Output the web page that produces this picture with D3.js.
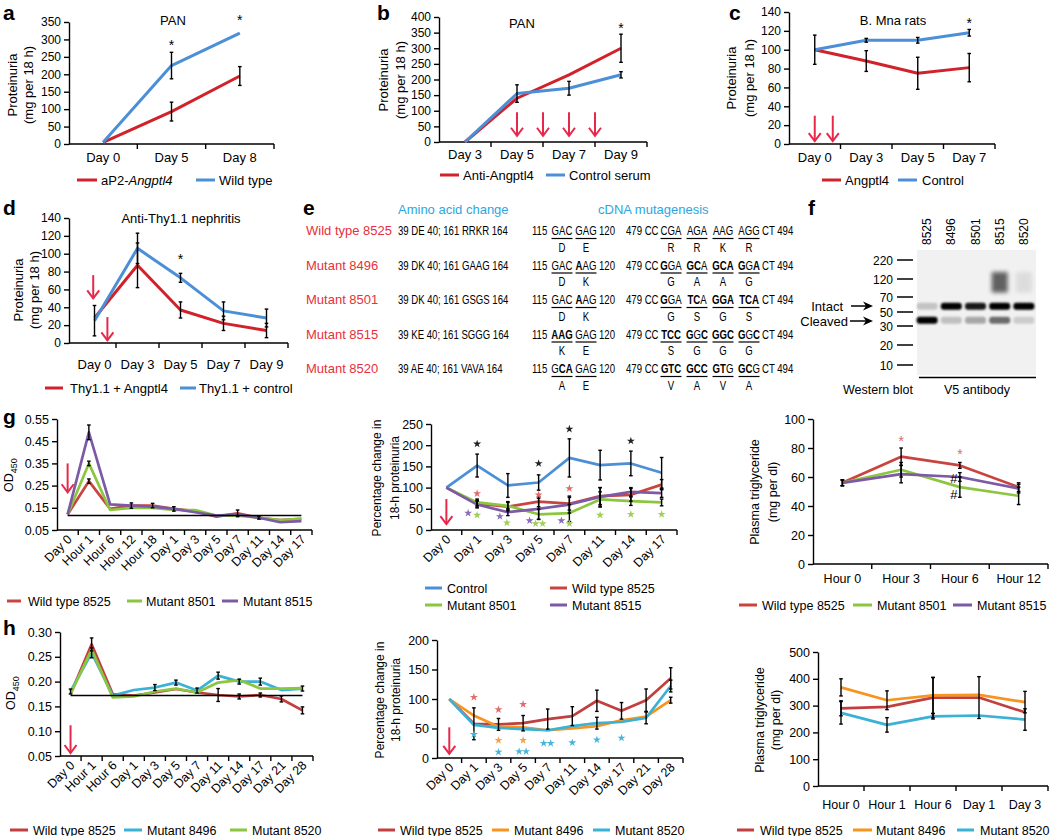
<!DOCTYPE html>
<html><head><meta charset="utf-8">
<script src="https://cdn.jsdelivr.net/npm/d3@7/dist/d3.min.js"></script>
<style>html,body{margin:0;padding:0;background:#fff}</style>
</head><body>
<svg id="fig" width="1050" height="836" xmlns="http://www.w3.org/2000/svg"></svg>
<script>
// ================= DATA =================
// panel a
const aCats = ["Day 0","Day 5","Day 8"];
const aTicks = [0,50,100,150,200,250,300,350];
const aAngptl4 = [5,93,195];
const aAngptl4Err = [0,27,27];
const aWild = [5,225,318];
const aWildErr = [0,38,0];
const aStars = [[1,290],[2,362]];
// panel b
const bCats = ["Day 3","Day 5","Day 7","Day 9"];
const bTicks = [0,50,100,150,200,250,300,350,400];
const bAnti = [0,140,215,300];
const bAntiErr = [0,0,0,45];
const bControl = [0,155,172,215];
const bControlErr = [0,28,22,10];
const bStars = [[3,372]];
const bArrowPos = [1,1.5,2,2.5];
// panel c
const cCats = ["Day 0","Day 3","Day 5","Day 7"];
const cTicks = [0,20,40,60,80,100,120,140];
const cAngptl4 = [100,88,75,81];
const cAngptl4Err = [0,11,17,15];
const cControl = [100,110,110,118];
const cControlErr = [15.5,2,3,3.5];
const cStars = [[3,130]];
const cArrowPos = [0,0.35];
// panel d
const dCats = ["Day 0","Day 3","Day 5","Day 7","Day 9"];
const dTicks = [0,20,40,60,80,100,120,140];
const dAngptl4 = [28,87,37,22,14];
const dAngptl4Err = [0,25,9,8,8];
const dControl = [25,106,73,36,28];
const dControlErr = [17,17,5,10,10];
const dStars = [[2,96]];
// panel e
const eNames = ["Wild type 8525","Mutant 8496","Mutant 8501","Mutant 8515","Mutant 8520"];
const eAmino = ["39 DE 40; 161 RRKR  164","39 DK 40; 161 GAAG 164","39 DK 40; 161 GSGS 164","39 KE 40; 161 SGGG 164","39 AE 40; 161 VAVA 164"];
const eAA1 = ["DE","DK","DK","KE","AE"];
const eAA2 = ["RRKR","GAAG","GSGS","SGGG","VAVA"];
const eCodon1 = [["GAC","GAG"],["GAC","[A]AG"],["GAC","[A]AG"],["[AAG]","GAG"],["G[CA]","GAG"]];
const eCodon2 = [["CGA","AGA","AAG","AGG"],["[G]GA","[GC]A","[GCA]","[G]G[A]"],["[G]GA","[TC]A","[GGA]","[TCA]"],["[TCC]","[G]G[C]","[GGC]","[G]G[C]"],["[GTC]","[GCC]","[GT]G","[GC]G"]];
// panel f
const fLanes = ["8525","8496","8501","8515","8520"];
const fMarkers = [220,120,70,50,30,20,10];
const fIntact = [0.18,1,0.9,1,1];
const fCleaved = [1,0.2,0.3,0.55,0.15];
const fSmear = [0,0,0,0.85,0.12];
// panel g (left)
const gOdCats = ["Day 0","Hour 1","Hour 6","Hour 12","Hour 18","Day 1","Day 3","Day 5","Day 7","Day 11","Day 14","Day 17"];
const gOdTicks = [0.05,0.15,0.25,0.35,0.45,0.55];
const gNames = ["Wild type 8525","Mutant 8501","Mutant 8515"];
const gOdWild = [0.12,0.27,0.145,0.16,0.16,0.145,0.135,0.11,0.125,0.105,0.095,0.10];
const gOdWildErr = [0,0.01,0,0.012,0.01,0.01,0,0,0.015,0.006,0,0];
const gOd8501 = [0.12,0.35,0.14,0.15,0.15,0.14,0.14,0.115,0.115,0.105,0.095,0.10];
const gOd8501Err = [0,0.01,0,0,0,0,0,0,0,0,0,0];
const gOd8515 = [0.12,0.49,0.165,0.16,0.155,0.145,0.13,0.115,0.12,0.105,0.085,0.09];
const gOd8515Err = [0,0.033,0,0,0,0,0,0,0,0,0,0];
const gOdBaseline = 0.115;
// panel g (middle)
const gPcCats = ["Day 0","Day 1","Day 3","Day 5","Day 7","Day 11","Day 14","Day 17"];
const gPcTicks = [0,50,100,150,200,250];
const gPcNames = ["Control","Wild type 8525","Mutant 8501","Mutant 8515"];
const gPcControl = [100,152,105,112,170,153,157,135];
const gPcControlErr = [0,27,28,18,45,35,29,36];
const gPcWild = [100,62,55,67,62,80,83,107];
const gPcWildErr = [0,8,10,12,15,20,15,12];
const gPc8501 = [100,65,57,37,40,72,68,65];
const gPc8501Err = [0,8,10,12,20,18,10,8];
const gPc8515 = [100,60,42,50,60,78,90,87];
const gPc8515Err = [0,8,8,25,20,22,10,10];
const gPcStars = [[1,203,0,"k"],[3,157,0,"k"],[4,238,0,"k"],[6,210,0,"k"],
  [1,86,0,"r"],[3,83,0,"r"],[4,98,0,"r"],
  [1,40,-9,"p"],[2,32,-8,"p"],[3,22,-9,"p"],[4,22,-8,"p"],
  [1,35,0,"g"],[2,17,-1,"g"],[3,15,-3,"g"],[3,15,4,"g"],[4,15,0,"g"],[5,35,0,"g"],[6,37,0,"g"],[7,37,0,"g"]];
// panel g (right)
const gTgCats = ["Hour 0","Hour 3","Hour 6","Hour 12"];
const gTgTicks = [0,20,40,60,80,100];
const gTgWild = [56,74,68,53];
const gTgWildErr = [2,6,2,3];
const gTg8501 = [56,65,53,47];
const gTg8501Err = [2,5,7,6];
const gTg8515 = [56,62,60,52];
const gTg8515Err = [2,6,3,3];
const gTgStars = [[1,86],[2,77]];
const gTgHash = [[2,59],[2,48]];
// panel h (left)
const hOdCats = ["Day 0","Hour 1","Hour 6","Day 1","Day 3","Day 5","Day 7","Day 11","Day 14","Day 17","Day 21","Day 28"];
const hOdTicks = [0.05,0.10,0.15,0.20,0.25,0.30];
const hNames = ["Wild type 8525","Mutant 8496","Mutant 8520"];
const hOdWild = [0.175,0.275,0.175,0.172,0.178,0.185,0.178,0.173,0.17,0.173,0.165,0.142];
const hOdWildErr = [0,0.013,0,0,0,0,0,0.013,0.005,0.004,0.006,0.007];
const hOd8496 = [0.18,0.258,0.172,0.183,0.188,0.198,0.182,0.212,0.200,0.200,0.183,0.186];
const hOd8496Err = [0.005,0.01,0,0,0.006,0.005,0.005,0.007,0.005,0.007,0,0.005];
const hOd8520 = [0.175,0.265,0.168,0.17,0.18,0.186,0.178,0.198,0.203,0.186,0.186,0.187];
const hOdBaseline = 0.172;
// panel h (middle)
const hPcCats = ["Day 0","Day 1","Day 3","Day 5","Day 7","Day 11","Day 14","Day 17","Day 21","Day 28"];
const hPcTicks = [0,50,100,150,200];
const hPcWild = [100,58,57,59,66,71,97,80,98,135];
const hPcWildErr = [0,27,10,13,17,16,18,14,19,18];
const hPc8496 = [100,72,53,52,47,50,54,64,70,98];
const hPc8496Err = [0,0,0,0,0,0,0,0,0,5];
const hPc8520 = [100,56,51,49,47,54,59,61,68,122];
const hPc8520Err = [0,0,0,0,0,0,10,0,10,10];
const hPcStars = [[1,103,0,"r"],[2,82,0,"r"],[3,91,0,"r"],
  [2,30,0,"o"],[3,30,0,"o"],
  [1,40,0,"c"],[2,10,0,"c"],[3,11,-4,"c"],[3,11,3,"c"],[4,25,-4,"c"],[4,25,3,"c"],[5,26,0,"c"],[6,31,0,"c"],[7,34,0,"c"]];
// panel h (right)
const hTgCats = ["Hour 0","Hour 1","Hour 6","Day 1","Day 3"];
const hTgTicks = [0,100,200,300,400,500];
const hTgWild = [290,295,330,330,275];
const hTgWildErr = [28,0,75,78,0];
const hTg8496 = [368,320,338,340,313];
const hTg8496Err = [32,35,67,0,40];
const hTg8520 = [273,228,260,263,248];
const hTg8520Err = [42,27,10,0,40];

// ================= STYLE =================
const FONT = "'Liberation Sans', Arial, Helvetica, sans-serif";
const RED = "#d1222b", BLUE = "#4b8fd7";
const GRED = "#c9443f", GGREEN = "#8cc540", GPURPLE = "#7d5aa6";
const HRED = "#c13f3f", HORANGE = "#f7941f", HCYAN = "#3cb1d6";
const ARROW = "#e8284a";
const starCol = {k:"#222", r:"#e46a6a", p:"#8a6cb8", g:"#9fcf5a", o:"#f7a24a", c:"#45b6da"};

const svg = d3.select("#fig").attr("font-family", FONT);

function redArrow(x, y0, y1){
  svg.append("line").attr("x1",x).attr("x2",x).attr("y1",y0).attr("y2",y1).attr("stroke",ARROW).attr("stroke-width",2);
  svg.append("path").attr("d",`M${x-6},${y1-8}L${x},${y1}L${x+6},${y1-8}`).attr("fill","none").attr("stroke",ARROW).attr("stroke-width",2);
}
function letter(t,x,y){ svg.append("text").attr("x",x).attr("y",y).attr("font-size",21).attr("font-weight","bold").text(t); }
function yLab(lines, xs, cy, fs, sub){
  lines.forEach((l,i)=>{
    const t = svg.append("text").attr("transform",`translate(${xs[i]+fs*0.35},${cy}) rotate(-90)`).attr("text-anchor","middle").attr("font-size",fs);
    t.append("tspan").text(l);
    if(sub) t.append("tspan").attr("font-size",fs*0.72).attr("dy",4).text(sub);
  });
}
function legend(items, y, fs, lw){
  items.forEach(it=>{
    svg.append("line").attr("x1",it.x1).attr("x2",it.x2).attr("y1",y).attr("y2",y).attr("stroke",it.color).attr("stroke-width",lw);
    const t = svg.append("text").attr("x",it.tx).attr("y",y+fs*0.36).attr("font-size",fs);
    it.label.forEach(p=>t.append("tspan").attr("font-style",p[1]?"italic":"normal").text(p[0]));
  });
}
function title(t,x,y){ svg.append("text").attr("x",x).attr("y",y).attr("text-anchor","middle").attr("font-size",13).text(t); }

function linePanel(o){
  const x = d3.scaleBand().domain(o.cats).range([o.x0,o.x1]);
  const y = d3.scaleLinear().domain(o.yDomain).range([o.yb,o.yt]);
  const cx = i => x(o.cats[i]) + x.bandwidth()/2;
  const px = f => o.x0 + (f+0.5)*x.step();
  const g = svg.append("g");
  const ya = g.append("g").attr("transform",`translate(${o.ax},0)`)
    .call(d3.axisLeft(y).tickValues(o.yTicks).tickFormat(o.fmt||d3.format("d")).tickSize(5).tickSizeOuter(0).tickPadding(3));
  ya.selectAll("text").attr("font-size",o.yfs).attr("fill","#000").attr("font-family",FONT);
  ya.selectAll("path,line").attr("stroke","#000").attr("stroke-width",1.4);
  g.append("line").attr("x1",o.ax).attr("x2",o.x1).attr("y1",o.yb).attr("y2",o.yb).attr("stroke","#000").attr("stroke-width",1.4);
  const bounds = o.cats.slice(1).map(c=>x(c)).concat([o.x1]);
  g.selectAll(null).data(bounds).join("line").attr("x1",d=>d).attr("x2",d=>d).attr("y1",o.yb).attr("y2",o.yb+5).attr("stroke","#000").attr("stroke-width",1.4);
  const xa = g.append("g").attr("transform",`translate(0,${o.yb})`).call(d3.axisBottom(x).tickSize(0).tickPadding(0));
  xa.select(".domain").remove();
  const xt = xa.selectAll("text").attr("font-size",o.xfs).attr("fill","#000").attr("font-family",FONT).attr("dy",null);
  if(o.rot) xt.attr("text-anchor","end").attr("y",0).attr("transform",`translate(${o.rdx},${o.rdy}) rotate(-45)`);
  else xt.attr("y",o.xly);
  const line = d3.line().x((d,i)=>cx(i)).y(d=>y(d));
  o.series.forEach(s=>g.append("path").datum(s.vals).attr("d",line).attr("fill","none").attr("stroke",s.color).attr("stroke-width",o.lw).attr("stroke-linejoin","round"));
  if(o.ref!=null) g.append("line").attr("x1",cx(0)).attr("x2",cx(o.cats.length-1)).attr("y1",y(o.ref)).attr("y2",y(o.ref)).attr("stroke","#000").attr("stroke-width",1.5);
  o.series.forEach(s=>{ if(!s.err) return; s.vals.forEach((v,i)=>{ const e=s.err[i]; if(!e) return; const X=cx(i)+(s.edx||0);
    g.append("line").attr("x1",X).attr("x2",X).attr("y1",y(v-e)).attr("y2",y(v+e)).attr("stroke","#000").attr("stroke-width",1.4);
    [v-e,v+e].forEach(w=>g.append("line").attr("x1",X-1.8).attr("x2",X+1.8).attr("y1",y(w)).attr("y2",y(w)).attr("stroke","#000").attr("stroke-width",1.4));
  });});
  (o.stars||[]).forEach(s=>{
    const X = cx(s.i)+(s.dx||0), Y = y(s.v);
    if(s.sym==="star") g.append("path").attr("d",d3.symbol(d3.symbolStar,20)()).attr("transform",`translate(${X},${Y})`).attr("fill",s.color);
    else if(s.sym==="#") g.append("text").attr("x",X).attr("y",Y+4.5).attr("text-anchor","middle").attr("font-size",13).attr("fill",s.color).text("#");
    else g.append("text").attr("x",X).attr("y",Y+7).attr("text-anchor","middle").attr("font-size",14).attr("fill",s.color).text("*");
  });
  (o.arrows||[]).forEach(a=>redArrow(px(a.f), y(a.v0), y(a.v1)));
}

// ================= PANELS a-d =================
const fsA = {yfs:12, xfs:13, lw:3};
letter("a",3,20);
linePanel(Object.assign({cats:aCats, ax:69, x0:69, x1:274, yb:144, yt:22, yDomain:[0,350], yTicks:aTicks, xly:18,
  series:[{vals:aAngptl4, err:aAngptl4Err, color:RED},{vals:aWild, err:aWildErr, color:BLUE}],
  stars:aStars.map(s=>({i:s[0], v:s[1], color:"#000"}))}, fsA));
title("PAN",173,25);
yLab(["Proteinuria","(mg per 18 h)"],[12,28],85,13);
legend([{x1:77,x2:97,tx:101,color:RED,label:[["aP2-",false],["Angptl4",true]]},{x1:196,x2:215,tx:219,color:BLUE,label:[["Wild type",false]]}],180,13,3);

letter("b",377,20);
linePanel(Object.assign({cats:bCats, ax:439, x0:439, x1:647, yb:142, yt:17, yDomain:[0,400], yTicks:bTicks, xly:17,
  series:[{vals:bAnti, err:bAntiErr, color:RED},{vals:bControl, err:bControlErr, color:BLUE}],
  stars:bStars.map(s=>({i:s[0], v:s[1], color:"#000"})),
  arrows:bArrowPos.map(f=>({f, v0:95, v1:20}))}, fsA));
title("PAN",522,28);
yLab(["Proteinuria","(mg per 18 h)"],[383,400],80,13);
legend([{x1:440,x2:459,tx:463,color:RED,label:[["Anti-Angptl4",false]]},{x1:546,x2:565,tx:569,color:BLUE,label:[["Control serum",false]]}],175,13,3);

letter("c",729,20);
linePanel(Object.assign({cats:cCats, ax:789, x0:789, x1:995, yb:144, yt:12, yDomain:[0,140], yTicks:cTicks, xly:18,
  series:[{vals:cAngptl4, err:cAngptl4Err, color:RED},{vals:cControl, err:cControlErr, color:BLUE}],
  stars:cStars.map(s=>({i:s[0], v:s[1], color:"#000"})),
  arrows:cArrowPos.map(f=>({f, v0:30, v1:3}))}, fsA));
title("B. Mna rats",893,25);
yLab(["Proteinuria","(mg per 18 h)"],[731,749],78,13);
legend([{x1:822,x2:841,tx:845,color:RED,label:[["Angptl4",false]]},{x1:898,x2:917,tx:922,color:BLUE,label:[["Control",false]]}],180,13,3);

letter("d",3,215);
linePanel(Object.assign({cats:dCats, ax:69, x0:73, x1:288, yb:343, yt:218, yDomain:[0,140], yTicks:dTicks, xly:26,
  series:[{vals:dAngptl4, err:dAngptl4Err, color:RED},{vals:dControl, err:dControlErr, color:BLUE}],
  stars:dStars.map(s=>({i:s[0], v:s[1], color:"#000"})),
  arrows:[{f:-0.03, v0:76, v1:50},{f:0.3, v0:29, v1:3}]}, fsA));
title("Anti-Thy1.1 nephritis",181,223);
yLab(["Proteinuria","(mg per 18 h)"],[18,34],290,13);
legend([{x1:45,x2:63,tx:70,color:RED,label:[["Thy1.1 + Angptl4",false]]},{x1:180,x2:196,tx:199,color:BLUE,label:[["Thy1.1 + control",false]]}],388,13,3);

// ================= PANEL e =================
letter("e",303,215);
svg.append("text").attr("x",398).attr("y",214).attr("font-size",13).attr("fill","#2aa7e0").text("Amino acid change");
svg.append("text").attr("x",598).attr("y",214).attr("font-size",13).attr("fill","#2aa7e0").text("cDNA mutagenesis");
const SX = 0.75;
function ctext(x,y,str,anchor){ return svg.append("text").attr("transform",`translate(${x},${y}) scale(${SX},1)`).attr("text-anchor",anchor||"start").attr("font-size",12.8).text(str); }
function codon(x,y,spec){
  const t = svg.append("text").attr("transform",`translate(${x},${y}) scale(${SX},1)`).attr("text-anchor","middle").attr("font-size",12.8);
  spec.split(/(\[[A-Z]+\])/).filter(p=>p).forEach(p=>{
    const b = p[0]==="[";
    t.append("tspan").attr("font-weight",b?"bold":"normal").text(b?p.slice(1,-1):p);
  });
}
const c1x = [562,586], c2x = [671,697,723,749];
eNames.forEach((nm,k)=>{
  const Y = 235 + k*34.5;
  svg.append("text").attr("x",306).attr("y",Y).attr("font-size",13).attr("fill","#e8303a").text(nm);
  ctext(398,Y,eAmino[k]);
  ctext(532,Y,"115"); ctext(599,Y,"120");
  ctext(626,Y,"479 CC"); ctext(762,Y,"CT 494");
  eCodon1[k].forEach((c,j)=>{ codon(c1x[j],Y,c); });
  eCodon2[k].forEach((c,j)=>{ codon(c2x[j],Y,c); });
  const under = (cxp, aa) => { svg.append("line").attr("x1",cxp-10.5).attr("x2",cxp+10.5).attr("y1",Y+3.5).attr("y2",Y+3.5).attr("stroke","#000").attr("stroke-width",1.2); ctext(cxp,Y+16.5,aa,"middle"); };
  eAA1[k].split("").forEach((a,j)=>under(c1x[j],a));
  eAA2[k].split("").forEach((a,j)=>under(c2x[j],a));
});

// ================= PANEL f =================
letter("f",808,215);
const defs = svg.append("defs");
defs.append("filter").attr("id","blur").attr("x","-50%").attr("y","-50%").attr("width","200%").attr("height","200%").append("feGaussianBlur").attr("stdDeviation",1.3);
defs.append("filter").attr("id","blur2").attr("x","-50%").attr("y","-50%").attr("width","200%").attr("height","200%").append("feGaussianBlur").attr("stdDeviation",2.2);
const fx = d3.scaleBand().domain(fLanes).range([915,1036]);
const fy = d3.scaleLog().domain([220,120,70,50,30,20,10]).range([260,279,297,312,326,345,365]);
svg.append("rect").attr("x",917).attr("y",250).attr("width",119).attr("height",125).attr("fill","#f1f1f1");
fLanes.forEach((l,i)=>{
  const X = fx(l)+fx.bandwidth()/2;
  svg.append("text").attr("transform",`translate(${X+4},245) rotate(-90)`).attr("font-size",12).text(l);
  if(fSmear[i]>0) svg.append("rect").attr("x",X-8).attr("y",fy(150)).attr("width",16).attr("height",fy(80)-fy(150)).attr("fill","#000").attr("opacity",fSmear[i]*0.7).attr("filter","url(#blur2)");
  svg.append("rect").attr("x",X-10.5).attr("y",fy(57)-3.5).attr("width",21).attr("height",7).attr("rx",3).attr("fill","#000").attr("opacity",fIntact[i]).attr("filter","url(#blur)");
  svg.append("rect").attr("x",X-10.5).attr("y",fy(37)-3.5).attr("width",21).attr("height",7).attr("rx",3).attr("fill","#000").attr("opacity",fCleaved[i]).attr("filter","url(#blur)");
});
fMarkers.forEach(m=>{
  svg.append("line").attr("x1",897).attr("x2",913).attr("y1",fy(m)).attr("y2",fy(m)).attr("stroke","#000").attr("stroke-width",1.5);
  svg.append("text").attr("x",893).attr("y",fy(m)+4.5).attr("text-anchor","end").attr("font-size",12).text(m);
});
function blackArrow(x0,x1,y){
  svg.append("line").attr("x1",x0).attr("x2",x1-6).attr("y1",y).attr("y2",y).attr("stroke","#000").attr("stroke-width",1.5);
  svg.append("path").attr("d",`M${x1},${y}L${x1-10},${y-4.5}L${x1-7},${y}L${x1-10},${y+4.5}Z`).attr("fill","#000");
}
svg.append("text").attr("x",843).attr("y",310.5).attr("text-anchor","end").attr("font-size",13).text("Intact");
blackArrow(851,873,306);
svg.append("text").attr("x",848).attr("y",325.5).attr("text-anchor","end").attr("font-size",13).text("Cleaved");
blackArrow(850,873,321);
svg.append("line").attr("x1",919).attr("x2",1036).attr("y1",377.5).attr("y2",377.5).attr("stroke","#000").attr("stroke-width",1.5);
svg.append("text").attr("x",843).attr("y",394).attr("font-size",12.5).text("Western blot");
svg.append("text").attr("x",977).attr("y",394).attr("text-anchor","middle").attr("font-size",12.5).text("V5 antibody");

// ================= PANEL g =================
const fsG = {yfs:12.5, xfs:12.5, lw:2.7, rdx:5, rdy:10};
letter("g",3,424);
linePanel(Object.assign({cats:gOdCats, ax:57, x0:57, x1:312, yb:530, yt:419, yDomain:[0.05,0.55], yTicks:gOdTicks, fmt:d3.format(".2f"), rot:true, ref:gOdBaseline,
  series:[{vals:gOdWild, err:gOdWildErr, color:GRED},{vals:gOd8501, err:gOd8501Err, color:GGREEN},{vals:gOd8515, err:gOd8515Err, color:GPURPLE}],
  arrows:[{f:0, v0:0.35, v1:0.22}]}, fsG));
yLab(["OD"],[9],475,12.5,"450");
legend([{x1:7,x2:21,tx:28,color:GRED,label:[[gNames[0],false]]},{x1:127,x2:142,tx:146,color:GGREEN,label:[[gNames[1],false]]},{x1:222,x2:238,tx:243,color:GPURPLE,label:[[gNames[2],false]]}],601,12.5,3);

linePanel(Object.assign({cats:gPcCats, ax:431, x0:431, x1:677, yb:530, yt:424, yDomain:[0,250], yTicks:gPcTicks, rot:true,
  series:[{vals:gPcControl, err:gPcControlErr, color:BLUE},{vals:gPcWild, err:gPcWildErr, color:GRED},{vals:gPc8501, err:gPc8501Err, color:GGREEN},{vals:gPc8515, err:gPc8515Err, color:GPURPLE}],
  stars:gPcStars.map(s=>({i:s[0], v:s[1], dx:s[2], color:starCol[s[3]], sym:"star"})),
  arrows:[{f:0, v0:73, v1:14}]}, fsG));
yLab(["Percentage change in","18-h proteinuria"],[377,395],478,12);
legend([{x1:425,x2:442,tx:447,color:BLUE,label:[[gPcNames[0],false]]},{x1:550,x2:567,tx:572,color:GRED,label:[[gPcNames[1],false]]}],588,12.5,3);
legend([{x1:425,x2:442,tx:447,color:GGREEN,label:[[gPcNames[2],false]]},{x1:550,x2:567,tx:572,color:GPURPLE,label:[[gPcNames[3],false]]}],605,12.5,3);

linePanel(Object.assign({cats:gTgCats, ax:813, x0:813, x1:1048, yb:564, yt:419, yDomain:[0,100], yTicks:gTgTicks, xly:19,
  series:[{vals:gTgWild, err:gTgWildErr, color:GRED},{vals:gTg8501, err:gTg8501Err, color:GGREEN},{vals:gTg8515, err:gTg8515Err, color:GPURPLE}],
  stars:gTgStars.map(s=>({i:s[0], v:s[1], color:"#e46a6a"})).concat(gTgHash.map(s=>({i:s[0], v:s[1], dx:-6, color:"#000", sym:"#"})))}, fsG));
yLab(["Plasma triglyceride","(mg per dl)"],[755,773],492,12.5);
legend([{x1:739,x2:757,tx:762,color:GRED,label:[[gNames[0],false]]},{x1:853,x2:872,tx:877,color:GGREEN,label:[[gNames[1],false]]},{x1:953,x2:972,tx:977,color:GPURPLE,label:[[gNames[2],false]]}],605,12.5,3);

// ================= PANEL h =================
letter("h",3,635);
linePanel(Object.assign({cats:hOdCats, ax:60, x0:60, x1:313, yb:756, yt:632, yDomain:[0.05,0.30], yTicks:hOdTicks, fmt:d3.format(".2f"), rot:true, ref:hOdBaseline,
  series:[{vals:hOdWild, err:hOdWildErr, color:HRED},{vals:hOd8496, err:hOd8496Err, color:HCYAN},{vals:hOd8520, color:GGREEN}],
  arrows:[{f:0, v0:0.112, v1:0.056}]}, fsG));
yLab(["OD"],[11],693,12.5,"450");
legend([{x1:10,x2:28,tx:33,color:HRED,label:[[hNames[0],false]]},{x1:124,x2:142,tx:147,color:HCYAN,label:[[hNames[1],false]]},{x1:230,x2:247,tx:252,color:GGREEN,label:[[hNames[2],false]]}],830,12.5,3);

linePanel(Object.assign({cats:hPcCats, ax:437, x0:437, x1:683, yb:758, yt:640, yDomain:[0,200], yTicks:hPcTicks, rot:true,
  series:[{vals:hPcWild, err:hPcWildErr, color:HRED},{vals:hPc8496, err:hPc8496Err, color:HORANGE},{vals:hPc8520, err:hPc8520Err, color:HCYAN}],
  stars:hPcStars.map(s=>({i:s[0], v:s[1], dx:s[2], color:starCol[s[3]], sym:"star"})),
  arrows:[{f:0, v0:52, v1:7}]}, fsG));
yLab(["Percentage change in","18-h proteinuria"],[380,396],700,12);
legend([{x1:378,x2:395,tx:400,color:HRED,label:[[hNames[0],false]]},{x1:492,x2:509,tx:514,color:HORANGE,label:[[hNames[1],false]]},{x1:593,x2:610,tx:615,color:HCYAN,label:[[hNames[2],false]]}],830,12.5,3);

linePanel(Object.assign({cats:hTgCats, ax:818, x0:818, x1:1048, yb:786, yt:652, yDomain:[0,500], yTicks:hTgTicks, xly:23,
  series:[{vals:hTgWild, err:hTgWildErr, color:HRED},{vals:hTg8496, err:hTg8496Err, color:HORANGE},{vals:hTg8520, err:hTg8520Err, color:HCYAN}]}, fsG));
yLab(["Plasma triglyceride","(mg per dl)"],[760,776],720,12.5);
legend([{x1:737,x2:754,tx:760,color:HRED,label:[[hNames[0],false]]},{x1:853,x2:872,tx:876,color:HORANGE,label:[[hNames[1],false]]},{x1:957,x2:974,tx:980,color:HCYAN,label:[[hNames[2],false]]}],830,12.5,3);
</script>
</body></html>
